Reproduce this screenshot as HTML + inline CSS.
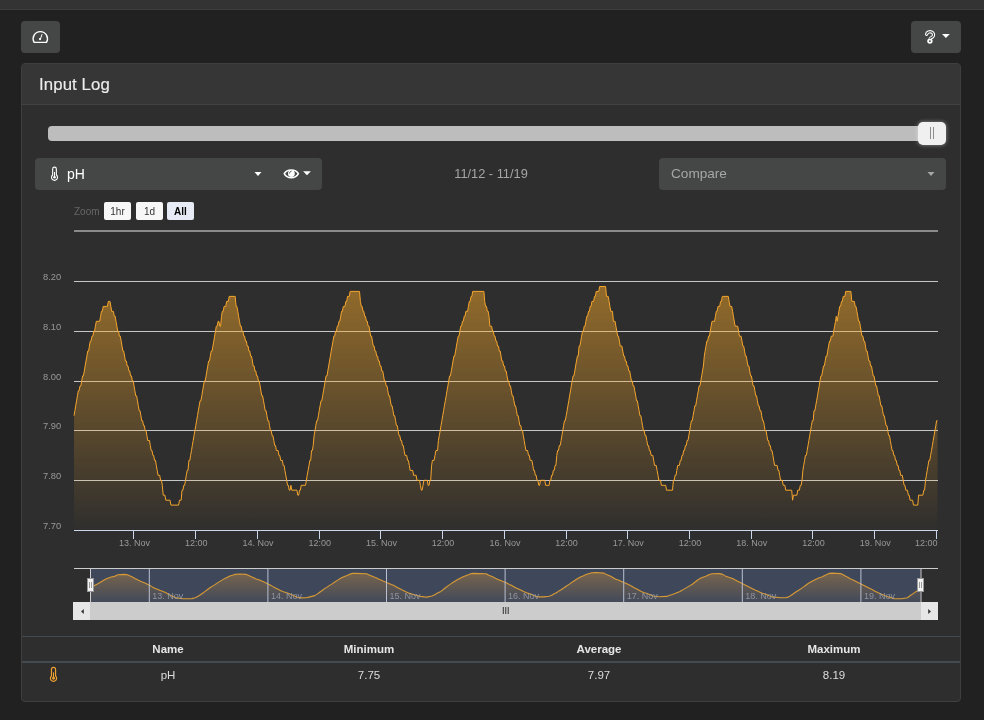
<!DOCTYPE html>
<html lang="en">
<head>
<meta charset="utf-8">
<title>Input Log</title>
<style>
*{box-sizing:border-box;margin:0;padding:0}
html,body{width:984px;height:720px;overflow:hidden}
body{background:#212121;font-family:"Liberation Sans",sans-serif;color:#fff;position:relative}
.abs{position:absolute}
.title,.sel,.zb,.tbl,.zl,svg{will-change:transform}
.topbar{left:0;top:0;width:984px;height:10px;background:#333333;border-bottom:1px solid #3d3d3d}
.btn{background:#444746;border-radius:4px}
.card{left:21px;top:63px;width:940px;height:639px;background:#2e2e2e;border:1px solid #3f3f3f;border-radius:4px;overflow:hidden}
.card-h{left:0;top:0;width:940px;height:41px;background:#363636;border-bottom:1px solid #434343}
.title{left:39px;top:74px;font-size:16.8px;line-height:22px;color:#ececec;white-space:nowrap;letter-spacing:.1px;-webkit-text-stroke:.15px #ececec}
.track{left:48px;top:126px;width:897px;height:15px;background:#bdbdbd;border-radius:4px}
.knob{left:918px;top:122px;width:28px;height:23px;background:#f0f0f0;border-radius:5px;box-shadow:0 0 4px rgba(255,255,255,.45)}
.knob i{position:absolute;top:5px;width:1px;height:12px;background:#8e8e8e}
.sel{top:158px;height:32px;font-size:14px;line-height:32px;white-space:nowrap}
.muted{color:#a6a6a6}
.zb{top:202px;height:18px;width:27px;border-radius:2px;background:#f7f7f7;color:#333;font-size:10px;line-height:19px;text-align:center}
.tbl{font-size:11.5px;line-height:14px;text-align:center;white-space:nowrap;color:#dcdcdc}
.th{font-weight:bold;color:#e6e6e6}
svg{position:absolute;left:0;top:0;overflow:visible}
svg text{font-family:"Liberation Sans",sans-serif}
</style>
</head>
<body>
<div class="abs topbar"></div>

<div class="abs btn" style="left:21px;top:21px;width:39px;height:32px"></div>
<div class="abs btn" style="left:911px;top:21px;width:50px;height:32px"></div>

<div class="abs card"><div class="abs card-h"></div></div>
<div class="abs title">Input Log</div>

<div class="abs track"></div>
<div class="abs knob"><i style="left:12px"></i><i style="left:15px"></i></div>

<div class="abs btn sel" style="left:35px;width:287px"><span class="abs" style="left:32px;top:0">pH</span></div>
<div class="abs sel muted" style="left:390.500px;width:200px;text-align:center;font-size:12.800px">11/12 - 11/19</div>
<div class="abs btn sel muted" style="left:659px;width:287px"><span class="abs" style="left:12px;top:0;font-size:13.600px">Compare</span></div>

<div class="abs zl" style="left:74px;top:205.500px;font-size:10px;line-height:12px;color:#666">Zoom</div>
<div class="abs zb" style="left:104px">1hr</div>
<div class="abs zb" style="left:136px">1d</div>
<div class="abs zb" style="left:167px;background:#e6ebf5;color:#000;font-weight:bold">All</div>

<svg width="984" height="720" viewBox="0 0 984 720">
  <defs>
    <linearGradient id="ga" x1="0" y1="286" x2="0" y2="530" gradientUnits="userSpaceOnUse">
      <stop offset="0" stop-color="#f0a428" stop-opacity=".52"/>
      <stop offset="1" stop-color="#f0a428" stop-opacity=".01"/>
    </linearGradient>
    <linearGradient id="gn" x1="0" y1="571" x2="0" y2="602" gradientUnits="userSpaceOnUse">
      <stop offset="0" stop-color="#f0a030" stop-opacity=".34"/>
      <stop offset="1" stop-color="#f0a030" stop-opacity=".02"/>
    </linearGradient>
  </defs>

  <!-- header icons -->
  <g fill="none" stroke="#fff" stroke-width="1.4" stroke-linecap="round" stroke-linejoin="round">
    <path d="M34.1 42.35 A7.15 7.15 0 1 1 46.5 42.35 Z"/>
  </g>
  <path d="M42 34.5 L40.4 39" fill="none" stroke="#fff" stroke-width="1" stroke-linecap="round"/><circle cx="40" cy="39.1" r="1.15" fill="#fff"/>
  <g fill="none" stroke-linecap="round" stroke-linejoin="round">
    <path d="M926.6 34.3 A3.5 3.05 0 1 1 932.7 36.8 C931 37.9 930.2 38.1 930 39.4" stroke="#fff" stroke-width="3.3"/>
    <circle cx="929.9" cy="41.1" r="2.7" fill="#fff" stroke="none"/>
    <path d="M926.6 34.3 A3.5 3.05 0 1 1 932.7 36.8 C931 37.9 930.2 38.1 930 38.5" stroke="#444746" stroke-width="1.15"/>
    <circle cx="929.9" cy="41.1" r=".95" fill="#444746" stroke="none"/>
  </g>
  <path d="M942 34 h7.8 l-3.9 4z" fill="#fff"/>

  <!-- select icons -->
  <g fill="none" stroke="#fff" stroke-width="1.1" stroke-linecap="round" stroke-linejoin="round">
    <path d="M52.65 175 V169 A1.85 1.85 0 0 1 56.35 169 V175 A3 3 0 1 1 52.65 175 Z"/>
    <path d="M54.5 172.4 V177" stroke-width="1"/>
  </g>
  <circle cx="54.5" cy="177.3" r="1.3" fill="#fff"/>
  <path d="M254.500 172 h7 l-3.5 4z" fill="#fff"/>
  <path d="M284.2 173.7 C287 168.6 295.6 168.6 298.4 173.7 C295.6 179.1 287 179.1 284.2 173.7Z" fill="none" stroke="#fff" stroke-width="1.5" stroke-linejoin="round"/>
  <circle cx="291.4" cy="173.6" r="3.4" fill="#fff"/>
  <path d="M289.4 173.2 A2 2 0 0 1 291.2 171.2" fill="none" stroke="#444746" stroke-width=".8" stroke-linecap="round"/>
  <path d="M303.100 171.200 h7.800 l-3.900 4z" fill="#fff"/>
  <path d="M927.500 172 h7 l-3.5 4z" fill="#a6a6a6"/>

  <!-- chart -->
  <g fill="#c6c6c6"><rect x="74" y="230" width="864" height="2" fill="#8a8a8a"/><rect x="74" y="281" width="864" height="1"/><rect x="74" y="331" width="864" height="1"/><rect x="74" y="381" width="864" height="1"/><rect x="74" y="430" width="864" height="1"/><rect x="74" y="480" width="864" height="1"/></g>
  <path d="M74 415.7 L74.9 410.7 L75.7 405.8 L76.6 400.8 L77.4 395.8 L78.3 390.8 L79.1 390.8 L80 385.9 L80.9 385.9 L81.7 380.9 L82.6 375.9 L83.4 375.9 L84.3 371 L85.1 366 L86 361 L86.9 356.1 L87.7 351.1 L88.6 351.1 L89.4 346.1 L90.3 341.1 L91.1 341.1 L92 336.2 L92.9 336.2 L93.7 331.2 L94.6 331.2 L95.4 326.2 L96.3 321.3 L99.7 321.3 L100.6 316.3 L101.4 311.3 L102.3 311.3 L103.2 306.4 L107.4 306.4 L108.3 301.4 L110 301.4 L110.9 306.4 L111.7 311.3 L113.4 311.3 L114.3 316.3 L115.2 316.3 L116 321.3 L116.9 326.2 L117.7 331.2 L118.6 331.2 L119.4 336.2 L120.3 336.2 L121.2 341.1 L122 346.1 L122.9 351.1 L123.7 351.1 L124.6 356.1 L125.4 361 L126.3 361 L127.2 366 L128 366 L128.9 371 L129.7 371 L130.6 375.9 L131.5 375.9 L132.3 380.9 L133.2 380.9 L134 385.9 L134.9 390.8 L135.7 395.8 L136.6 395.8 L137.5 400.8 L138.3 405.8 L139.2 410.7 L140 410.7 L140.9 415.7 L141.7 420.7 L142.6 420.7 L143.5 425.6 L144.3 425.6 L145.2 430.6 L146 430.6 L146.9 435.6 L147.7 440.5 L149.5 440.5 L150.3 445.5 L151.2 450.5 L152 450.5 L152.9 455.4 L153.7 455.4 L154.6 460.4 L155.5 460.4 L156.3 465.4 L157.2 470.4 L158 475.3 L159.7 475.3 L160.6 480.3 L161.5 480.3 L162.3 485.3 L163.2 495.2 L164.9 495.2 L165.8 500.2 L170 500.2 L170.9 505.1 L178.6 505.1 L179.5 500.2 L181.2 500.2 L182 490.2 L182.9 490.2 L183.8 485.3 L184.6 485.3 L185.5 480.3 L186.3 475.3 L187.2 470.4 L188 470.4 L188.9 460.4 L189.8 460.4 L190.6 455.4 L191.5 450.5 L192.3 445.5 L193.2 440.5 L194 435.6 L194.9 430.6 L195.8 425.6 L196.6 420.7 L197.5 415.7 L198.3 410.7 L199.2 405.8 L200.1 400.8 L200.9 400.8 L201.8 395.8 L202.6 390.8 L203.5 385.9 L204.3 380.9 L205.2 380.9 L206.1 375.9 L206.9 371 L207.8 366 L208.6 361 L209.5 361 L210.3 356.1 L211.2 351.1 L212.1 351.1 L212.9 346.1 L213.8 341.1 L214.6 336.2 L215.5 331.2 L216.3 326.2 L217.2 326.2 L218.1 321.3 L218.9 321.3 L219.8 326.2 L220.6 326.2 L221.5 316.3 L222.3 311.3 L223.2 311.3 L224.1 306.4 L225.8 306.4 L226.6 301.4 L228.3 301.4 L229.2 296.4 L235.2 296.4 L236.1 306.4 L236.9 306.4 L237.8 311.3 L238.6 316.3 L239.5 321.3 L240.4 326.2 L241.2 326.2 L242.1 331.2 L242.9 331.2 L243.8 336.2 L244.6 336.2 L245.5 341.1 L246.4 341.1 L247.2 346.1 L248.1 346.1 L248.9 351.1 L249.8 351.1 L250.6 356.1 L251.5 356.1 L252.4 361 L253.2 366 L254.1 366 L254.9 371 L255.8 371 L256.6 375.9 L257.5 375.9 L258.4 380.9 L259.2 380.9 L260.1 385.9 L260.9 390.8 L261.8 395.8 L262.6 395.8 L263.5 400.8 L264.4 405.8 L265.2 410.7 L266.1 410.7 L266.9 415.7 L267.8 420.7 L268.7 420.7 L269.5 425.6 L270.4 430.6 L271.2 430.6 L272.1 435.6 L272.9 435.6 L273.8 440.5 L274.7 445.5 L275.5 445.5 L276.4 450.5 L278.1 450.5 L278.9 455.4 L279.8 455.4 L280.7 460.4 L282.4 460.4 L283.2 465.4 L284.1 465.4 L284.9 470.4 L285.8 475.3 L286.7 480.3 L287.5 485.3 L288.4 485.3 L289.2 490.2 L290.1 490.2 L290.9 485.3 L291.8 490.2 L296.9 490.2 L297.8 495.2 L298.7 495.2 L299.5 490.2 L300.4 490.2 L301.2 485.3 L305.5 485.3 L306.4 480.3 L307.2 475.3 L308.1 470.4 L309 465.4 L309.8 460.4 L310.7 460.4 L311.5 450.5 L312.4 450.5 L313.2 445.5 L314.1 435.6 L315 430.6 L315.8 425.6 L316.7 420.7 L317.5 420.7 L318.4 415.7 L319.2 410.7 L320.1 405.8 L321 400.8 L321.8 400.8 L322.7 395.8 L323.5 390.8 L324.4 385.9 L325.2 380.9 L326.1 375.9 L327 375.9 L327.8 371 L328.7 366 L329.5 361 L330.4 356.1 L331.2 351.1 L332.1 346.1 L333 341.1 L333.8 336.2 L334.7 336.2 L335.5 331.2 L336.4 331.2 L337.3 326.2 L338.1 326.2 L339 321.3 L339.8 321.3 L340.7 316.3 L341.5 311.3 L342.4 311.3 L343.3 306.4 L345 306.4 L345.8 301.4 L346.7 301.4 L347.5 296.4 L349.3 296.4 L350.1 291.4 L359.5 291.4 L360.4 301.4 L361.3 306.4 L362.1 306.4 L363 311.3 L363.8 311.3 L364.7 316.3 L365.5 316.3 L366.4 321.3 L367.3 321.3 L368.1 326.2 L369 326.2 L369.8 331.2 L370.7 336.2 L371.6 336.2 L372.4 341.1 L373.3 346.1 L374.1 346.1 L375 351.1 L375.8 351.1 L376.7 356.1 L377.6 356.1 L378.4 361 L379.3 361 L380.1 366 L381 366 L381.8 371 L382.7 371 L383.6 375.9 L384.4 380.9 L385.3 380.9 L386.1 385.9 L387 385.9 L387.8 390.8 L388.7 395.8 L389.6 395.8 L390.4 400.8 L391.3 405.8 L392.1 405.8 L393 410.7 L393.8 415.7 L394.7 415.7 L395.6 420.7 L396.4 425.6 L397.3 425.6 L398.1 430.6 L399 435.6 L399.8 435.6 L400.7 440.5 L401.6 440.5 L402.4 445.5 L403.3 445.5 L404.1 450.5 L405 455.4 L406.7 455.4 L407.6 460.4 L408.4 460.4 L409.3 465.4 L410.1 470.4 L412.7 470.4 L413.6 475.3 L416.1 475.3 L417 480.3 L419.6 480.3 L420.4 485.3 L421.3 490.2 L422.1 490.2 L423 485.3 L423.9 480.3 L427.3 480.3 L428.1 485.3 L429 485.3 L429.9 480.3 L430.7 480.3 L431.6 465.4 L432.4 460.4 L434.1 460.4 L435 455.4 L435.9 450.5 L437.6 450.5 L438.4 440.5 L439.3 435.6 L440.2 430.6 L441 425.6 L441.9 420.7 L442.7 415.7 L443.6 410.7 L444.4 405.8 L445.3 400.8 L446.2 395.8 L447 390.8 L447.9 385.9 L448.7 380.9 L449.6 375.9 L450.4 375.9 L451.3 371 L452.2 366 L453 361 L453.9 356.1 L454.7 356.1 L455.6 351.1 L456.4 346.1 L457.3 341.1 L458.2 336.2 L459 336.2 L459.9 331.2 L460.7 326.2 L461.6 326.2 L462.4 321.3 L463.3 321.3 L464.2 316.3 L465 316.3 L465.9 311.3 L467.6 311.3 L468.4 306.4 L469.3 301.4 L470.2 301.4 L471 296.4 L471.9 296.4 L472.7 291.4 L483.9 291.4 L484.7 301.4 L485.6 306.4 L486.5 306.4 L487.3 311.3 L488.2 311.3 L489 316.3 L489.9 326.2 L491.6 326.2 L492.5 331.2 L493.3 331.2 L494.2 336.2 L495 336.2 L495.9 341.1 L496.7 341.1 L497.6 346.1 L498.5 346.1 L499.3 351.1 L500.2 351.1 L501 356.1 L501.9 361 L502.7 361 L503.6 366 L504.5 366 L505.3 371 L506.2 371 L507 375.9 L507.9 380.9 L508.8 380.9 L509.6 385.9 L510.5 385.9 L511.3 390.8 L512.2 395.8 L513 395.8 L513.9 400.8 L514.8 405.8 L515.6 405.8 L516.5 410.7 L517.3 415.7 L518.2 415.7 L519 420.7 L519.9 425.6 L520.8 425.6 L521.6 430.6 L522.5 430.6 L523.3 435.6 L524.2 440.5 L525 445.5 L525.9 450.5 L527.6 450.5 L528.5 455.4 L529.3 455.4 L530.2 460.4 L531.9 460.4 L532.8 465.4 L533.6 470.4 L534.5 470.4 L535.3 475.3 L536.2 475.3 L537 480.3 L537.9 480.3 L538.8 485.3 L539.6 485.3 L540.5 480.3 L544.8 480.3 L545.6 485.3 L549.1 485.3 L549.9 480.3 L550.8 480.3 L551.6 475.3 L552.5 475.3 L553.3 470.4 L554.2 470.4 L555.1 465.4 L555.9 465.4 L556.8 455.4 L557.6 450.5 L558.5 450.5 L559.3 445.5 L560.2 445.5 L561.1 440.5 L561.9 435.6 L562.8 430.6 L563.6 425.6 L564.5 420.7 L565.3 420.7 L566.2 415.7 L567.1 410.7 L567.9 405.8 L568.8 400.8 L569.6 395.8 L570.5 390.8 L571.3 385.9 L572.2 380.9 L573.1 375.9 L573.9 375.9 L574.8 371 L575.6 366 L576.5 361 L577.4 356.1 L578.2 356.1 L579.1 346.1 L579.9 346.1 L580.8 341.1 L581.6 336.2 L582.5 331.2 L583.4 331.2 L584.2 326.2 L585.1 326.2 L585.9 321.3 L586.8 316.3 L587.6 316.3 L588.5 311.3 L589.4 311.3 L590.2 306.4 L591.1 306.4 L591.9 301.4 L593.6 301.4 L594.5 296.4 L595.4 296.4 L596.2 291.4 L598.8 291.4 L599.6 286.5 L605.6 286.5 L606.5 296.4 L608.2 296.4 L609.1 301.4 L609.9 306.4 L610.8 311.3 L612.5 311.3 L613.4 321.3 L615.1 321.3 L615.9 326.2 L616.8 331.2 L617.7 336.2 L618.5 336.2 L619.4 341.1 L620.2 346.1 L621.9 346.1 L622.8 351.1 L623.7 356.1 L624.5 356.1 L625.4 361 L626.2 361 L627.1 366 L627.9 366 L628.8 371 L629.7 371 L630.5 375.9 L631.4 380.9 L632.2 380.9 L633.1 385.9 L633.9 385.9 L634.8 390.8 L635.7 395.8 L636.5 400.8 L637.4 400.8 L638.2 405.8 L639.1 410.7 L639.9 415.7 L640.8 415.7 L641.7 420.7 L642.5 425.6 L643.4 430.6 L644.2 430.6 L645.1 435.6 L646 435.6 L646.8 440.5 L647.7 445.5 L648.5 445.5 L649.4 450.5 L650.2 450.5 L651.1 455.4 L652.8 455.4 L653.7 460.4 L654.5 465.4 L656.2 465.4 L657.1 470.4 L658 475.3 L658.8 480.3 L660.5 480.3 L661.4 485.3 L665.7 485.3 L666.5 490.2 L672.5 490.2 L673.4 480.3 L674.2 480.3 L675.1 475.3 L676 475.3 L676.8 470.4 L677.7 465.4 L679.4 465.4 L680.3 460.4 L681.1 460.4 L682 455.4 L682.8 455.4 L683.7 450.5 L684.5 450.5 L685.4 445.5 L686.3 445.5 L687.1 440.5 L688 440.5 L688.8 435.6 L689.7 430.6 L690.5 425.6 L691.4 420.7 L692.3 420.7 L693.1 415.7 L694 410.7 L694.8 405.8 L695.7 405.8 L696.5 400.8 L697.4 395.8 L698.3 390.8 L699.1 385.9 L700 385.9 L700.8 380.9 L701.7 375.9 L702.5 371 L703.4 366 L704.3 356.1 L705.1 351.1 L706 346.1 L706.8 341.1 L707.7 341.1 L708.5 336.2 L709.4 336.2 L710.3 331.2 L711.1 326.2 L712 321.3 L714.6 321.3 L715.4 316.3 L716.3 311.3 L717.1 311.3 L718 306.4 L719.7 306.4 L720.6 301.4 L721.4 301.4 L722.3 296.4 L728.3 296.4 L729.1 301.4 L730 306.4 L731.7 306.4 L732.6 311.3 L733.4 316.3 L734.3 321.3 L735.1 326.2 L737.7 326.2 L738.6 331.2 L739.4 336.2 L741.1 336.2 L742 341.1 L742.8 346.1 L743.7 346.1 L744.6 351.1 L745.4 356.1 L746.3 356.1 L747.1 361 L748 366 L748.9 366 L749.7 371 L750.6 375.9 L751.4 375.9 L752.3 380.9 L753.1 385.9 L754 385.9 L754.9 390.8 L755.7 395.8 L756.6 395.8 L757.4 400.8 L758.3 405.8 L759.1 405.8 L760 410.7 L760.9 410.7 L761.7 415.7 L762.6 420.7 L763.4 420.7 L764.3 425.6 L765.1 430.6 L766 430.6 L766.9 435.6 L767.7 440.5 L768.6 440.5 L769.4 445.5 L770.3 445.5 L771.1 450.5 L772 450.5 L772.9 455.4 L773.7 460.4 L774.6 465.4 L777.1 465.4 L778 470.4 L778.9 470.4 L779.7 475.3 L780.6 480.3 L782.3 480.3 L783.2 485.3 L784.9 485.3 L785.7 490.2 L791.7 490.2 L792.6 500.2 L793.4 495.2 L796.9 495.2 L797.7 490.2 L799.4 490.2 L800.3 485.3 L801.2 485.3 L802 480.3 L802.9 470.4 L803.7 465.4 L804.6 460.4 L805.4 455.4 L806.3 455.4 L807.2 450.5 L808 445.5 L808.9 440.5 L809.7 435.6 L810.6 430.6 L811.4 425.6 L812.3 420.7 L813.2 420.7 L814 410.7 L814.9 410.7 L815.7 405.8 L816.6 400.8 L817.5 395.8 L818.3 390.8 L819.2 385.9 L820 380.9 L820.9 375.9 L821.7 375.9 L822.6 371 L823.5 366 L824.3 366 L825.2 361 L826 356.1 L826.9 356.1 L827.7 351.1 L828.6 346.1 L829.5 341.1 L830.3 341.1 L831.2 336.2 L832.9 336.2 L833.7 331.2 L834.6 326.2 L835.5 321.3 L836.3 316.3 L837.2 321.3 L838 316.3 L838.9 311.3 L839.7 306.4 L840.6 306.4 L841.5 301.4 L842.3 301.4 L843.2 296.4 L844.9 296.4 L845.7 291.4 L850.9 291.4 L851.8 301.4 L854.3 301.4 L855.2 306.4 L856 306.4 L856.9 311.3 L857.8 316.3 L858.6 321.3 L859.5 321.3 L860.3 326.2 L861.2 331.2 L862 336.2 L862.9 336.2 L863.8 341.1 L864.6 341.1 L865.5 346.1 L866.3 351.1 L867.2 351.1 L868 356.1 L868.9 361 L869.8 361 L870.6 366 L871.5 366 L872.3 371 L873.2 375.9 L874 375.9 L874.9 380.9 L875.8 385.9 L876.6 385.9 L877.5 390.8 L878.3 395.8 L879.2 395.8 L880 400.8 L880.9 405.8 L881.8 405.8 L882.6 410.7 L883.5 415.7 L884.3 415.7 L885.2 420.7 L886.1 425.6 L886.9 425.6 L887.8 430.6 L888.6 435.6 L889.5 435.6 L890.3 440.5 L891.2 445.5 L892.1 450.5 L892.9 450.5 L893.8 455.4 L894.6 455.4 L895.5 460.4 L896.3 460.4 L897.2 465.4 L898.1 465.4 L898.9 470.4 L899.8 470.4 L900.6 475.3 L902.3 475.3 L903.2 480.3 L904.1 485.3 L904.9 485.3 L905.8 490.2 L907.5 490.2 L908.3 495.2 L909.2 495.2 L910.1 500.2 L912.6 500.2 L913.5 505.1 L917.8 505.1 L918.6 495.2 L922.9 495.2 L923.8 490.2 L924.6 490.2 L925.5 480.3 L926.4 475.3 L927.2 470.4 L928.1 465.4 L928.9 460.4 L929.8 460.4 L930.6 455.4 L931.5 450.5 L932.4 445.5 L933.2 440.5 L934.1 435.6 L934.9 430.6 L935.8 425.6 L936.6 420.7 L937.5 420.7 L937.5 530 L74 530 Z" fill="url(#ga)"/>
  <path d="M74 415.7 L74.9 410.7 L75.7 405.8 L76.6 400.8 L77.4 395.8 L78.3 390.8 L79.1 390.8 L80 385.9 L80.9 385.9 L81.7 380.9 L82.6 375.9 L83.4 375.9 L84.3 371 L85.1 366 L86 361 L86.9 356.1 L87.7 351.1 L88.6 351.1 L89.4 346.1 L90.3 341.1 L91.1 341.1 L92 336.2 L92.9 336.2 L93.7 331.2 L94.6 331.2 L95.4 326.2 L96.3 321.3 L99.7 321.3 L100.6 316.3 L101.4 311.3 L102.3 311.3 L103.2 306.4 L107.4 306.4 L108.3 301.4 L110 301.4 L110.9 306.4 L111.7 311.3 L113.4 311.3 L114.3 316.3 L115.2 316.3 L116 321.3 L116.9 326.2 L117.7 331.2 L118.6 331.2 L119.4 336.2 L120.3 336.2 L121.2 341.1 L122 346.1 L122.9 351.1 L123.7 351.1 L124.6 356.1 L125.4 361 L126.3 361 L127.2 366 L128 366 L128.9 371 L129.7 371 L130.6 375.9 L131.5 375.9 L132.3 380.9 L133.2 380.9 L134 385.9 L134.9 390.8 L135.7 395.8 L136.6 395.8 L137.5 400.8 L138.3 405.8 L139.2 410.7 L140 410.7 L140.9 415.7 L141.7 420.7 L142.6 420.7 L143.5 425.6 L144.3 425.6 L145.2 430.6 L146 430.6 L146.9 435.6 L147.7 440.5 L149.5 440.5 L150.3 445.5 L151.2 450.5 L152 450.5 L152.9 455.4 L153.7 455.4 L154.6 460.4 L155.5 460.4 L156.3 465.4 L157.2 470.4 L158 475.3 L159.7 475.3 L160.6 480.3 L161.5 480.3 L162.3 485.3 L163.2 495.2 L164.9 495.2 L165.8 500.2 L170 500.2 L170.9 505.1 L178.6 505.1 L179.5 500.2 L181.2 500.2 L182 490.2 L182.9 490.2 L183.8 485.3 L184.6 485.3 L185.5 480.3 L186.3 475.3 L187.2 470.4 L188 470.4 L188.9 460.4 L189.8 460.4 L190.6 455.4 L191.5 450.5 L192.3 445.5 L193.2 440.5 L194 435.6 L194.9 430.6 L195.8 425.6 L196.6 420.7 L197.5 415.7 L198.3 410.7 L199.2 405.8 L200.1 400.8 L200.9 400.8 L201.8 395.8 L202.6 390.8 L203.5 385.9 L204.3 380.9 L205.2 380.9 L206.1 375.9 L206.9 371 L207.8 366 L208.6 361 L209.5 361 L210.3 356.1 L211.2 351.1 L212.1 351.1 L212.9 346.1 L213.8 341.1 L214.6 336.2 L215.5 331.2 L216.3 326.2 L217.2 326.2 L218.1 321.3 L218.9 321.3 L219.8 326.2 L220.6 326.2 L221.5 316.3 L222.3 311.3 L223.2 311.3 L224.1 306.4 L225.8 306.4 L226.6 301.4 L228.3 301.4 L229.2 296.4 L235.2 296.4 L236.1 306.4 L236.9 306.4 L237.8 311.3 L238.6 316.3 L239.5 321.3 L240.4 326.2 L241.2 326.2 L242.1 331.2 L242.9 331.2 L243.8 336.2 L244.6 336.2 L245.5 341.1 L246.4 341.1 L247.2 346.1 L248.1 346.1 L248.9 351.1 L249.8 351.1 L250.6 356.1 L251.5 356.1 L252.4 361 L253.2 366 L254.1 366 L254.9 371 L255.8 371 L256.6 375.9 L257.5 375.9 L258.4 380.9 L259.2 380.9 L260.1 385.9 L260.9 390.8 L261.8 395.8 L262.6 395.8 L263.5 400.8 L264.4 405.8 L265.2 410.7 L266.1 410.7 L266.9 415.7 L267.8 420.7 L268.7 420.7 L269.5 425.6 L270.4 430.6 L271.2 430.6 L272.1 435.6 L272.9 435.6 L273.8 440.5 L274.7 445.5 L275.5 445.5 L276.4 450.5 L278.1 450.5 L278.9 455.4 L279.8 455.4 L280.7 460.4 L282.4 460.4 L283.2 465.4 L284.1 465.4 L284.9 470.4 L285.8 475.3 L286.7 480.3 L287.5 485.3 L288.4 485.3 L289.2 490.2 L290.1 490.2 L290.9 485.3 L291.8 490.2 L296.9 490.2 L297.8 495.2 L298.7 495.2 L299.5 490.2 L300.4 490.2 L301.2 485.3 L305.5 485.3 L306.4 480.3 L307.2 475.3 L308.1 470.4 L309 465.4 L309.8 460.4 L310.7 460.4 L311.5 450.5 L312.4 450.5 L313.2 445.5 L314.1 435.6 L315 430.6 L315.8 425.6 L316.7 420.7 L317.5 420.7 L318.4 415.7 L319.2 410.7 L320.1 405.8 L321 400.8 L321.8 400.8 L322.7 395.8 L323.5 390.8 L324.4 385.9 L325.2 380.9 L326.1 375.9 L327 375.9 L327.8 371 L328.7 366 L329.5 361 L330.4 356.1 L331.2 351.1 L332.1 346.1 L333 341.1 L333.8 336.2 L334.7 336.2 L335.5 331.2 L336.4 331.2 L337.3 326.2 L338.1 326.2 L339 321.3 L339.8 321.3 L340.7 316.3 L341.5 311.3 L342.4 311.3 L343.3 306.4 L345 306.4 L345.8 301.4 L346.7 301.4 L347.5 296.4 L349.3 296.4 L350.1 291.4 L359.5 291.4 L360.4 301.4 L361.3 306.4 L362.1 306.4 L363 311.3 L363.8 311.3 L364.7 316.3 L365.5 316.3 L366.4 321.3 L367.3 321.3 L368.1 326.2 L369 326.2 L369.8 331.2 L370.7 336.2 L371.6 336.2 L372.4 341.1 L373.3 346.1 L374.1 346.1 L375 351.1 L375.8 351.1 L376.7 356.1 L377.6 356.1 L378.4 361 L379.3 361 L380.1 366 L381 366 L381.8 371 L382.7 371 L383.6 375.9 L384.4 380.9 L385.3 380.9 L386.1 385.9 L387 385.9 L387.8 390.8 L388.7 395.8 L389.6 395.8 L390.4 400.8 L391.3 405.8 L392.1 405.8 L393 410.7 L393.8 415.7 L394.7 415.7 L395.6 420.7 L396.4 425.6 L397.3 425.6 L398.1 430.6 L399 435.6 L399.8 435.6 L400.7 440.5 L401.6 440.5 L402.4 445.5 L403.3 445.5 L404.1 450.5 L405 455.4 L406.7 455.4 L407.6 460.4 L408.4 460.4 L409.3 465.4 L410.1 470.4 L412.7 470.4 L413.6 475.3 L416.1 475.3 L417 480.3 L419.6 480.3 L420.4 485.3 L421.3 490.2 L422.1 490.2 L423 485.3 L423.9 480.3 L427.3 480.3 L428.1 485.3 L429 485.3 L429.9 480.3 L430.7 480.3 L431.6 465.4 L432.4 460.4 L434.1 460.4 L435 455.4 L435.9 450.5 L437.6 450.5 L438.4 440.5 L439.3 435.6 L440.2 430.6 L441 425.6 L441.9 420.7 L442.7 415.7 L443.6 410.7 L444.4 405.8 L445.3 400.8 L446.2 395.8 L447 390.8 L447.9 385.9 L448.7 380.9 L449.6 375.9 L450.4 375.9 L451.3 371 L452.2 366 L453 361 L453.9 356.1 L454.7 356.1 L455.6 351.1 L456.4 346.1 L457.3 341.1 L458.2 336.2 L459 336.2 L459.9 331.2 L460.7 326.2 L461.6 326.2 L462.4 321.3 L463.3 321.3 L464.2 316.3 L465 316.3 L465.9 311.3 L467.6 311.3 L468.4 306.4 L469.3 301.4 L470.2 301.4 L471 296.4 L471.9 296.4 L472.7 291.4 L483.9 291.4 L484.7 301.4 L485.6 306.4 L486.5 306.4 L487.3 311.3 L488.2 311.3 L489 316.3 L489.9 326.2 L491.6 326.2 L492.5 331.2 L493.3 331.2 L494.2 336.2 L495 336.2 L495.9 341.1 L496.7 341.1 L497.6 346.1 L498.5 346.1 L499.3 351.1 L500.2 351.1 L501 356.1 L501.9 361 L502.7 361 L503.6 366 L504.5 366 L505.3 371 L506.2 371 L507 375.9 L507.9 380.9 L508.8 380.9 L509.6 385.9 L510.5 385.9 L511.3 390.8 L512.2 395.8 L513 395.8 L513.9 400.8 L514.8 405.8 L515.6 405.8 L516.5 410.7 L517.3 415.7 L518.2 415.7 L519 420.7 L519.9 425.6 L520.8 425.6 L521.6 430.6 L522.5 430.6 L523.3 435.6 L524.2 440.5 L525 445.5 L525.9 450.5 L527.6 450.5 L528.5 455.4 L529.3 455.4 L530.2 460.4 L531.9 460.4 L532.8 465.4 L533.6 470.4 L534.5 470.4 L535.3 475.3 L536.2 475.3 L537 480.3 L537.9 480.3 L538.8 485.3 L539.6 485.3 L540.5 480.3 L544.8 480.3 L545.6 485.3 L549.1 485.3 L549.9 480.3 L550.8 480.3 L551.6 475.3 L552.5 475.3 L553.3 470.4 L554.2 470.4 L555.1 465.4 L555.9 465.4 L556.8 455.4 L557.6 450.5 L558.5 450.5 L559.3 445.5 L560.2 445.5 L561.1 440.5 L561.9 435.6 L562.8 430.6 L563.6 425.6 L564.5 420.7 L565.3 420.7 L566.2 415.7 L567.1 410.7 L567.9 405.8 L568.8 400.8 L569.6 395.8 L570.5 390.8 L571.3 385.9 L572.2 380.9 L573.1 375.9 L573.9 375.9 L574.8 371 L575.6 366 L576.5 361 L577.4 356.1 L578.2 356.1 L579.1 346.1 L579.9 346.1 L580.8 341.1 L581.6 336.2 L582.5 331.2 L583.4 331.2 L584.2 326.2 L585.1 326.2 L585.9 321.3 L586.8 316.3 L587.6 316.3 L588.5 311.3 L589.4 311.3 L590.2 306.4 L591.1 306.4 L591.9 301.4 L593.6 301.4 L594.5 296.4 L595.4 296.4 L596.2 291.4 L598.8 291.4 L599.6 286.5 L605.6 286.5 L606.5 296.4 L608.2 296.4 L609.1 301.4 L609.9 306.4 L610.8 311.3 L612.5 311.3 L613.4 321.3 L615.1 321.3 L615.9 326.2 L616.8 331.2 L617.7 336.2 L618.5 336.2 L619.4 341.1 L620.2 346.1 L621.9 346.1 L622.8 351.1 L623.7 356.1 L624.5 356.1 L625.4 361 L626.2 361 L627.1 366 L627.9 366 L628.8 371 L629.7 371 L630.5 375.9 L631.4 380.9 L632.2 380.9 L633.1 385.9 L633.9 385.9 L634.8 390.8 L635.7 395.8 L636.5 400.8 L637.4 400.8 L638.2 405.8 L639.1 410.7 L639.9 415.7 L640.8 415.7 L641.7 420.7 L642.5 425.6 L643.4 430.6 L644.2 430.6 L645.1 435.6 L646 435.6 L646.8 440.5 L647.7 445.5 L648.5 445.5 L649.4 450.5 L650.2 450.5 L651.1 455.4 L652.8 455.4 L653.7 460.4 L654.5 465.4 L656.2 465.4 L657.1 470.4 L658 475.3 L658.8 480.3 L660.5 480.3 L661.4 485.3 L665.7 485.3 L666.5 490.2 L672.5 490.2 L673.4 480.3 L674.2 480.3 L675.1 475.3 L676 475.3 L676.8 470.4 L677.7 465.4 L679.4 465.4 L680.3 460.4 L681.1 460.4 L682 455.4 L682.8 455.4 L683.7 450.5 L684.5 450.5 L685.4 445.5 L686.3 445.5 L687.1 440.5 L688 440.5 L688.8 435.6 L689.7 430.6 L690.5 425.6 L691.4 420.7 L692.3 420.7 L693.1 415.7 L694 410.7 L694.8 405.8 L695.7 405.8 L696.5 400.8 L697.4 395.8 L698.3 390.8 L699.1 385.9 L700 385.9 L700.8 380.9 L701.7 375.9 L702.5 371 L703.4 366 L704.3 356.1 L705.1 351.1 L706 346.1 L706.8 341.1 L707.7 341.1 L708.5 336.2 L709.4 336.2 L710.3 331.2 L711.1 326.2 L712 321.3 L714.6 321.3 L715.4 316.3 L716.3 311.3 L717.1 311.3 L718 306.4 L719.7 306.4 L720.6 301.4 L721.4 301.4 L722.3 296.4 L728.3 296.4 L729.1 301.4 L730 306.4 L731.7 306.4 L732.6 311.3 L733.4 316.3 L734.3 321.3 L735.1 326.2 L737.7 326.2 L738.6 331.2 L739.4 336.2 L741.1 336.2 L742 341.1 L742.8 346.1 L743.7 346.1 L744.6 351.1 L745.4 356.1 L746.3 356.1 L747.1 361 L748 366 L748.9 366 L749.7 371 L750.6 375.9 L751.4 375.9 L752.3 380.9 L753.1 385.9 L754 385.9 L754.9 390.8 L755.7 395.8 L756.6 395.8 L757.4 400.8 L758.3 405.8 L759.1 405.8 L760 410.7 L760.9 410.7 L761.7 415.7 L762.6 420.7 L763.4 420.7 L764.3 425.6 L765.1 430.6 L766 430.6 L766.9 435.6 L767.7 440.5 L768.6 440.5 L769.4 445.5 L770.3 445.5 L771.1 450.5 L772 450.5 L772.9 455.4 L773.7 460.4 L774.6 465.4 L777.1 465.4 L778 470.4 L778.9 470.4 L779.7 475.3 L780.6 480.3 L782.3 480.3 L783.2 485.3 L784.9 485.3 L785.7 490.2 L791.7 490.2 L792.6 500.2 L793.4 495.2 L796.9 495.2 L797.7 490.2 L799.4 490.2 L800.3 485.3 L801.2 485.3 L802 480.3 L802.9 470.4 L803.7 465.4 L804.6 460.4 L805.4 455.4 L806.3 455.4 L807.2 450.5 L808 445.5 L808.9 440.5 L809.7 435.6 L810.6 430.6 L811.4 425.6 L812.3 420.7 L813.2 420.7 L814 410.7 L814.9 410.7 L815.7 405.8 L816.6 400.8 L817.5 395.8 L818.3 390.8 L819.2 385.9 L820 380.9 L820.9 375.9 L821.7 375.9 L822.6 371 L823.5 366 L824.3 366 L825.2 361 L826 356.1 L826.9 356.1 L827.7 351.1 L828.6 346.1 L829.5 341.1 L830.3 341.1 L831.2 336.2 L832.9 336.2 L833.7 331.2 L834.6 326.2 L835.5 321.3 L836.3 316.3 L837.2 321.3 L838 316.3 L838.9 311.3 L839.7 306.4 L840.6 306.4 L841.5 301.4 L842.3 301.4 L843.2 296.4 L844.9 296.4 L845.7 291.4 L850.9 291.4 L851.8 301.4 L854.3 301.4 L855.2 306.4 L856 306.4 L856.9 311.3 L857.8 316.3 L858.6 321.3 L859.5 321.3 L860.3 326.2 L861.2 331.2 L862 336.2 L862.9 336.2 L863.8 341.1 L864.6 341.1 L865.5 346.1 L866.3 351.1 L867.2 351.1 L868 356.1 L868.9 361 L869.8 361 L870.6 366 L871.5 366 L872.3 371 L873.2 375.9 L874 375.9 L874.9 380.9 L875.8 385.9 L876.6 385.9 L877.5 390.8 L878.3 395.8 L879.2 395.8 L880 400.8 L880.9 405.8 L881.8 405.8 L882.6 410.7 L883.5 415.7 L884.3 415.7 L885.2 420.7 L886.1 425.6 L886.9 425.6 L887.8 430.6 L888.6 435.6 L889.5 435.6 L890.3 440.5 L891.2 445.5 L892.1 450.5 L892.9 450.5 L893.8 455.4 L894.6 455.4 L895.5 460.4 L896.3 460.4 L897.2 465.4 L898.1 465.4 L898.9 470.4 L899.8 470.4 L900.6 475.3 L902.3 475.3 L903.2 480.3 L904.1 485.3 L904.9 485.3 L905.8 490.2 L907.5 490.2 L908.3 495.2 L909.2 495.2 L910.1 500.2 L912.6 500.2 L913.5 505.1 L917.8 505.1 L918.6 495.2 L922.9 495.2 L923.8 490.2 L924.6 490.2 L925.5 480.3 L926.4 475.3 L927.2 470.4 L928.1 465.4 L928.9 460.4 L929.8 460.4 L930.6 455.4 L931.5 450.5 L932.4 445.5 L933.2 440.5 L934.1 435.6 L934.9 430.6 L935.8 425.6 L936.6 420.7 L937.5 420.7" fill="none" stroke="#f5a52d" stroke-width="1" stroke-linejoin="round"/>
  <rect x="74" y="530" width="864" height="1" fill="#ccd6eb"/>
  <g stroke="#ccd6eb" stroke-width="1" fill="none"><path d="M133.5 530 V539" /><path d="M195.5 530 V539" /><path d="M257.5 530 V539" /><path d="M319.5 530 V539" /><path d="M380.5 530 V539" /><path d="M442.5 530 V539" /><path d="M504.5 530 V539" /><path d="M566.5 530 V539" /><path d="M627.5 530 V539" /><path d="M689.5 530 V539" /><path d="M751.5 530 V539" /><path d="M812.5 530 V539" /><path d="M874.5 530 V539" /><path d="M936.5 530 V539" /></g>
  <g font-size="9" fill="#999"><text x="134.5" y="546" text-anchor="middle">13. Nov</text><text x="196.2" y="546" text-anchor="middle">12:00</text><text x="258.0" y="546" text-anchor="middle">14. Nov</text><text x="319.7" y="546" text-anchor="middle">12:00</text><text x="381.4" y="546" text-anchor="middle">15. Nov</text><text x="443.1" y="546" text-anchor="middle">12:00</text><text x="504.9" y="546" text-anchor="middle">16. Nov</text><text x="566.6" y="546" text-anchor="middle">12:00</text><text x="628.3" y="546" text-anchor="middle">17. Nov</text><text x="690.1" y="546" text-anchor="middle">12:00</text><text x="751.8" y="546" text-anchor="middle">18. Nov</text><text x="813.5" y="546" text-anchor="middle">12:00</text><text x="875.3" y="546" text-anchor="middle">19. Nov</text><text x="937.5" y="546" text-anchor="end">12:00</text></g>
  <g font-size="9.3" fill="#999"><text x="43" y="279.6">8.20</text><text x="43" y="329.6">8.10</text><text x="43" y="379.6">8.00</text><text x="43" y="428.6">7.90</text><text x="43" y="478.6">7.80</text><text x="43" y="528.6">7.70</text></g>

  <!-- navigator -->
  <rect x="90.500" y="568" width="830.200" height="34" fill="#6685c2" fill-opacity=".3"/>
  <path d="M90.5 587.2 L93 586.5 L95.4 585 L97.9 583.7 L100.4 582.3 L102.9 580.8 L105.3 579.3 L107.8 578.2 L110.3 577.2 L115.2 576.1 L117.7 574.8 L123.5 574.4 L126.8 574.6 L130.1 575.9 L132.5 577 L135 578.4 L137.5 579.7 L140 581 L142.4 582 L144.9 582.9 L147.4 584.2 L149.9 585.4 L152.3 586.9 L154.8 588.2 L157.3 589.2 L159.8 590.3 L163 591.4 L165.5 592.6 L168 593.9 L170.5 595.2 L173.8 596.7 L176.2 597.9 L182.8 598.8 L191.9 598.6 L195.2 597.7 L197.7 596.4 L200.1 595 L202.6 593.3 L205.1 591.4 L207.6 589.5 L210 587.8 L212.5 586.1 L215 584.6 L217.5 582.9 L219.9 581.4 L222.4 579.9 L224.9 578.4 L227.4 577.2 L229.8 576.1 L232.3 575.3 L234.8 574.4 L238.9 574 L246.3 574.4 L248.8 575.5 L251.3 576.7 L253.7 577.8 L256.2 578.9 L258.7 579.7 L261.2 580.8 L263.6 581.8 L266.1 582.9 L268.6 584.2 L271 585.4 L273.5 586.9 L276 588.2 L278.5 589.5 L280.9 590.7 L283.4 591.8 L286.7 592.8 L289.2 593.7 L292.5 595 L295 596.2 L297.4 597.3 L299.9 597.9 L306.5 597.7 L309 597.1 L314.7 595.6 L317.2 594.1 L319.7 592.2 L322.2 590.5 L324.6 588.6 L327.1 587.1 L329.6 585.4 L332.1 583.9 L334.5 582.3 L337 580.6 L339.5 578.9 L342 577.6 L344.4 576.5 L346.9 575.5 L349.4 574.4 L352.7 573.4 L356 573.4 L366.7 573.8 L369.2 575 L371.6 575.9 L374.1 577 L376.6 578 L379.1 579.3 L381.5 580.3 L384 581.4 L386.5 582.5 L388.9 583.5 L391.4 584.6 L393.9 585.6 L396.4 586.9 L398.8 588.2 L401.3 589.5 L403.8 590.7 L406.3 592 L408.7 593.1 L412 594.1 L416.1 595.2 L420.3 596.4 L424.4 596.9 L426.9 597.1 L431.8 596 L434.3 595 L437.6 593.1 L440.9 591.4 L443.4 589.5 L445.8 587.5 L448.3 585.6 L450.8 583.9 L453.2 582.3 L455.7 580.8 L458.2 579.3 L460.7 578 L463.1 576.7 L465.6 575.7 L468.9 574.6 L471.4 573.6 L473.9 573.4 L486.2 573.8 L488.7 575.3 L492 576.5 L494.5 577.8 L496.9 578.9 L499.4 579.9 L501.9 581 L504.4 582 L506.8 583.1 L509.3 584.4 L511.8 585.6 L514.3 586.9 L516.7 588.2 L519.2 589.2 L521.7 590.5 L524.1 591.8 L527.4 593.1 L530.7 594.1 L533.2 595.2 L535.7 596.2 L538.2 596.9 L543.9 596.9 L548.9 596.2 L551.4 595.4 L553.8 594.1 L556.3 592.8 L558.8 591.1 L561.2 589.7 L563.7 588 L566.2 586.3 L568.7 584.6 L571.1 582.9 L573.6 581.2 L576.1 579.5 L578.6 578 L581 576.7 L583.5 575.7 L586 574.6 L588.5 573.8 L591.8 572.7 L595.9 572.5 L604.1 573.1 L606.6 574.6 L610.7 576.3 L613.2 577.8 L615.7 579.3 L619 580.3 L621.4 581.4 L623.9 582.5 L626.4 583.5 L628.9 584.8 L631.3 586.1 L633.8 587.5 L636.3 588.8 L638.7 590.1 L641.2 591.4 L643.7 592.4 L647 593.5 L650.3 594.7 L652.8 596 L659.4 596.7 L666.8 596.4 L669.2 595.6 L672.5 594.5 L675 593.5 L677.5 592.4 L680 591.4 L682.4 590.1 L684.9 588.6 L687.4 587.1 L689.9 585.6 L692.3 584.2 L694.8 582.3 L697.3 580.3 L699.8 578.6 L702.2 577.4 L706.3 576.1 L708.8 574.8 L712.1 573.8 L719.5 573.6 L722.8 574.4 L725.3 575.9 L729.4 577.4 L732.7 578.6 L735.2 579.9 L737.7 581.2 L740.2 582.5 L742.6 583.7 L745.1 585 L747.6 586.3 L750 587.5 L752.5 588.8 L755 590.1 L757.5 591.1 L759.9 592.2 L762.4 593.3 L766.5 594.5 L769 595.8 L772.3 596.9 L780.5 597.7 L785.5 597.7 L788.8 596.9 L791.3 595.2 L793.7 593.5 L796.2 591.8 L798.7 590.3 L801.2 588.6 L803.6 586.9 L806.1 585 L808.6 583.3 L811.1 581.8 L813.5 580.6 L816 579.3 L818.5 578 L821.8 577 L824.2 575.7 L826.7 574.6 L829.2 573.4 L832.5 573.1 L840.7 573.6 L843.2 574.8 L845.7 576.3 L848.2 577.6 L850.6 578.9 L853.1 579.9 L855.6 581.2 L858 582.5 L860.5 583.7 L863 585 L865.5 586.3 L867.9 587.5 L870.4 588.8 L872.9 590.1 L875.4 591.4 L877.8 592.6 L880.3 593.7 L882.8 594.7 L885.2 595.8 L888.5 596.9 L891.8 597.9 L894.3 598.8 L901.7 598.8 L907.5 597.7 L910 595.8 L912.5 594.1 L914.9 592.4 L917.4 590.7 L919.9 589.8 L920.7 602 L90.5 602 Z" fill="url(#gn)"/>
  <path d="M90.5 587.2 L93 586.5 L95.4 585 L97.9 583.7 L100.4 582.3 L102.9 580.8 L105.3 579.3 L107.8 578.2 L110.3 577.2 L115.2 576.1 L117.7 574.8 L123.5 574.4 L126.8 574.6 L130.1 575.9 L132.5 577 L135 578.4 L137.5 579.7 L140 581 L142.4 582 L144.9 582.9 L147.4 584.2 L149.9 585.4 L152.3 586.9 L154.8 588.2 L157.3 589.2 L159.8 590.3 L163 591.4 L165.5 592.6 L168 593.9 L170.5 595.2 L173.8 596.7 L176.2 597.9 L182.8 598.8 L191.9 598.6 L195.2 597.7 L197.7 596.4 L200.1 595 L202.6 593.3 L205.1 591.4 L207.6 589.5 L210 587.8 L212.5 586.1 L215 584.6 L217.5 582.9 L219.9 581.4 L222.4 579.9 L224.9 578.4 L227.4 577.2 L229.8 576.1 L232.3 575.3 L234.8 574.4 L238.9 574 L246.3 574.4 L248.8 575.5 L251.3 576.7 L253.7 577.8 L256.2 578.9 L258.7 579.7 L261.2 580.8 L263.6 581.8 L266.1 582.9 L268.6 584.2 L271 585.4 L273.5 586.9 L276 588.2 L278.5 589.5 L280.9 590.7 L283.4 591.8 L286.7 592.8 L289.2 593.7 L292.5 595 L295 596.2 L297.4 597.3 L299.9 597.9 L306.5 597.7 L309 597.1 L314.7 595.6 L317.2 594.1 L319.7 592.2 L322.2 590.5 L324.6 588.6 L327.1 587.1 L329.6 585.4 L332.1 583.9 L334.5 582.3 L337 580.6 L339.5 578.9 L342 577.6 L344.4 576.5 L346.9 575.5 L349.4 574.4 L352.7 573.4 L356 573.4 L366.7 573.8 L369.2 575 L371.6 575.9 L374.1 577 L376.6 578 L379.1 579.3 L381.5 580.3 L384 581.4 L386.5 582.5 L388.9 583.5 L391.4 584.6 L393.9 585.6 L396.4 586.9 L398.8 588.2 L401.3 589.5 L403.8 590.7 L406.3 592 L408.7 593.1 L412 594.1 L416.1 595.2 L420.3 596.4 L424.4 596.9 L426.9 597.1 L431.8 596 L434.3 595 L437.6 593.1 L440.9 591.4 L443.4 589.5 L445.8 587.5 L448.3 585.6 L450.8 583.9 L453.2 582.3 L455.7 580.8 L458.2 579.3 L460.7 578 L463.1 576.7 L465.6 575.7 L468.9 574.6 L471.4 573.6 L473.9 573.4 L486.2 573.8 L488.7 575.3 L492 576.5 L494.5 577.8 L496.9 578.9 L499.4 579.9 L501.9 581 L504.4 582 L506.8 583.1 L509.3 584.4 L511.8 585.6 L514.3 586.9 L516.7 588.2 L519.2 589.2 L521.7 590.5 L524.1 591.8 L527.4 593.1 L530.7 594.1 L533.2 595.2 L535.7 596.2 L538.2 596.9 L543.9 596.9 L548.9 596.2 L551.4 595.4 L553.8 594.1 L556.3 592.8 L558.8 591.1 L561.2 589.7 L563.7 588 L566.2 586.3 L568.7 584.6 L571.1 582.9 L573.6 581.2 L576.1 579.5 L578.6 578 L581 576.7 L583.5 575.7 L586 574.6 L588.5 573.8 L591.8 572.7 L595.9 572.5 L604.1 573.1 L606.6 574.6 L610.7 576.3 L613.2 577.8 L615.7 579.3 L619 580.3 L621.4 581.4 L623.9 582.5 L626.4 583.5 L628.9 584.8 L631.3 586.1 L633.8 587.5 L636.3 588.8 L638.7 590.1 L641.2 591.4 L643.7 592.4 L647 593.5 L650.3 594.7 L652.8 596 L659.4 596.7 L666.8 596.4 L669.2 595.6 L672.5 594.5 L675 593.5 L677.5 592.4 L680 591.4 L682.4 590.1 L684.9 588.6 L687.4 587.1 L689.9 585.6 L692.3 584.2 L694.8 582.3 L697.3 580.3 L699.8 578.6 L702.2 577.4 L706.3 576.1 L708.8 574.8 L712.1 573.8 L719.5 573.6 L722.8 574.4 L725.3 575.9 L729.4 577.4 L732.7 578.6 L735.2 579.9 L737.7 581.2 L740.2 582.5 L742.6 583.7 L745.1 585 L747.6 586.3 L750 587.5 L752.5 588.8 L755 590.1 L757.5 591.1 L759.9 592.2 L762.4 593.3 L766.5 594.5 L769 595.8 L772.3 596.9 L780.5 597.7 L785.5 597.7 L788.8 596.9 L791.3 595.2 L793.7 593.5 L796.2 591.8 L798.7 590.3 L801.2 588.6 L803.6 586.9 L806.1 585 L808.6 583.3 L811.1 581.8 L813.5 580.6 L816 579.3 L818.5 578 L821.8 577 L824.2 575.7 L826.7 574.6 L829.2 573.4 L832.5 573.1 L840.7 573.6 L843.2 574.8 L845.7 576.3 L848.2 577.6 L850.6 578.9 L853.1 579.9 L855.6 581.2 L858 582.5 L860.5 583.7 L863 585 L865.5 586.3 L867.9 587.5 L870.4 588.8 L872.9 590.1 L875.4 591.4 L877.8 592.6 L880.3 593.7 L882.8 594.7 L885.2 595.8 L888.5 596.9 L891.8 597.9 L894.3 598.8 L901.7 598.8 L907.5 597.7 L910 595.8 L912.5 594.1 L914.9 592.4 L917.4 590.7 L919.9 589.8" fill="none" stroke="#d89a35" stroke-width="1.1" stroke-linejoin="round"/>
  <g fill="#b9c0d0"><rect x="148.8" y="568" width="1" height="34"/><rect x="267.4" y="568" width="1" height="34"/><rect x="386.0" y="568" width="1" height="34"/><rect x="504.6" y="568" width="1" height="34"/><rect x="623.2" y="568" width="1" height="34"/><rect x="741.8" y="568" width="1" height="34"/><rect x="860.4" y="568" width="1" height="34"/></g>
  <g font-size="9" fill="#9aa0ad" fill-opacity=".85"><text x="152.3" y="598.7">13. Nov</text><text x="270.9" y="598.7">14. Nov</text><text x="389.5" y="598.7">15. Nov</text><text x="508.1" y="598.7">16. Nov</text><text x="626.7" y="598.7">17. Nov</text><text x="745.3" y="598.7">18. Nov</text><text x="863.9" y="598.7">19. Nov</text></g>
  <rect x="74" y="568" width="864" height="1" fill="#cccccc"/>
  <rect x="90" y="568" width="1" height="34" fill="#cccccc"/>
  <rect x="920.500" y="568" width="1" height="34" fill="#cccccc"/>
  <!-- handles -->
  <g>
    <rect x="87.500" y="578.500" width="6" height="13" fill="#f2f2f2" stroke="#999" stroke-width="1"/>
    <path d="M89.500 582 V588 M91.500 582 V588" stroke="#999" stroke-width="1"/>
    <rect x="917.500" y="578.500" width="6" height="13" fill="#f2f2f2" stroke="#999" stroke-width="1"/>
    <path d="M919.500 582 V588 M921.500 582 V588" stroke="#999" stroke-width="1"/>
  </g>
  <!-- scrollbar -->
  <rect x="73" y="602" width="865" height="18" fill="#cccccc"/>
  <rect x="73" y="602" width="17" height="18" fill="#e6e6e6"/>
  <rect x="921" y="602" width="17" height="18" fill="#e6e6e6"/>
  <path d="M83.800 609 V614 L81 611.500Z" fill="#333"/>
  <path d="M928.200 609 V614 L931 611.500Z" fill="#333"/>
  <path d="M503.300 607 V614 M505.750 607 V614 M508.200 607 V614" stroke="#333" stroke-width="1"/>

  <!-- table thermometer -->
  <g fill="none" stroke="#f0a230" stroke-width="1.2" stroke-linecap="round" stroke-linejoin="round">
    <path d="M51.45 675.95 V669.35 A2.05 2.05 0 0 1 55.55 669.35 V675.95 A3.1 3.1 0 1 1 51.45 675.95 Z"/>
    <path d="M53.5 672.8 V678" stroke-width="1.1"/>
  </g>
  <circle cx="53.5" cy="678.2" r="1.45" fill="#f0a230"/>
</svg>

<div class="abs" style="left:22px;top:636px;width:938px;height:1px;background:#434a50"></div>
<div class="abs" style="left:22px;top:661px;width:938px;height:2px;background:#434a50"></div>
<div class="abs tbl th" style="left:118px;top:642px;width:100px">Name</div>
<div class="abs tbl th" style="left:319px;top:642px;width:100px">Minimum</div>
<div class="abs tbl th" style="left:549px;top:642px;width:100px">Average</div>
<div class="abs tbl th" style="left:784px;top:642px;width:100px">Maximum</div>
<div class="abs tbl" style="left:118px;top:668px;width:100px">pH</div>
<div class="abs tbl" style="left:319px;top:668px;width:100px">7.75</div>
<div class="abs tbl" style="left:549px;top:668px;width:100px">7.97</div>
<div class="abs tbl" style="left:784px;top:668px;width:100px">8.19</div>
</body>
</html>
